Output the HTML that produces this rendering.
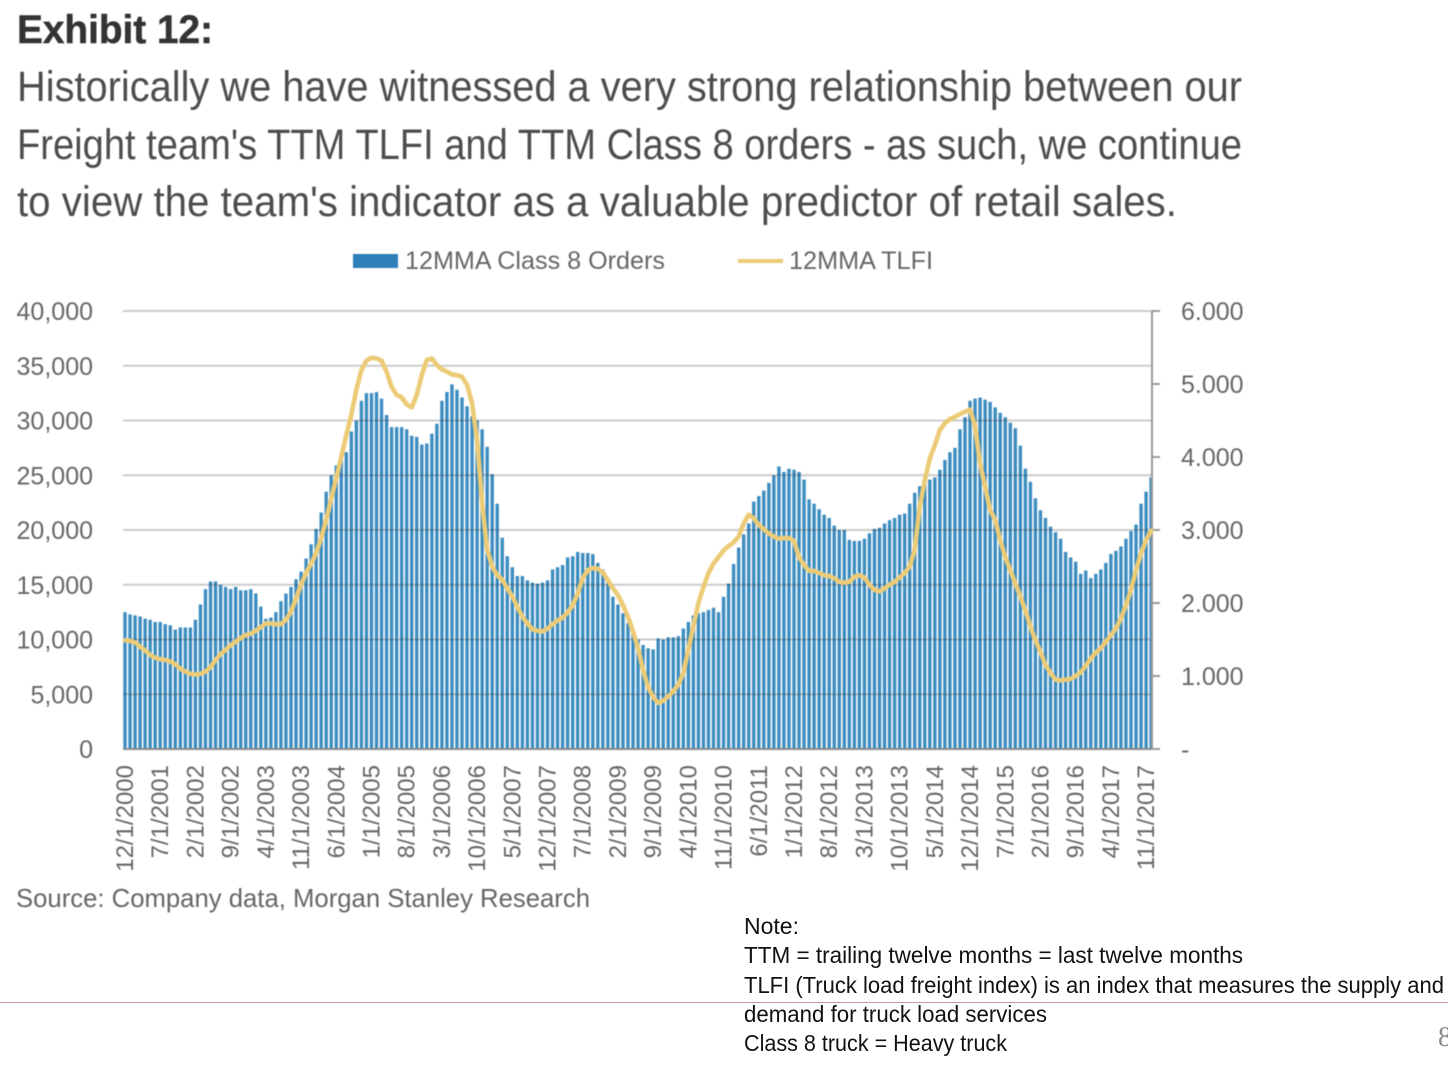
<!DOCTYPE html>
<html lang="en">
<head>
<meta charset="utf-8">
<title>Exhibit 12</title>
<style>
html,body{margin:0;padding:0;background:#fff;width:1448px;height:1065px;overflow:hidden}
svg{position:absolute;left:0;top:0;display:block}
text{font-family:"Liberation Sans",Arial,sans-serif}
#soft{filter:blur(.55px)}
</style>
</head>
<body>
<svg id="page" xmlns="http://www.w3.org/2000/svg" width="1448" height="1065" viewBox="0 0 1448 1065">
  <g id="soft">
    <text x="17" y="43" font-size="40" font-weight="bold" fill="#333" stroke="#333" stroke-width=".5" textLength="196" lengthAdjust="spacingAndGlyphs">Exhibit 12:</text>
    <text x="17" y="101" font-size="43" fill="#4d4d4d" textLength="1225" lengthAdjust="spacingAndGlyphs">Historically we have witnessed a very strong relationship between our</text>
    <text x="17" y="159" font-size="43" fill="#4d4d4d" textLength="1225" lengthAdjust="spacingAndGlyphs">Freight team's TTM TLFI and TTM Class 8 orders - as such, we continue</text>
    <text x="17" y="216" font-size="43" fill="#4d4d4d" textLength="1160" lengthAdjust="spacingAndGlyphs">to view the team's indicator as a valuable predictor of retail sales.</text>

    <g>
      <rect x="353" y="254" width="45" height="14" fill="#2f7fb8"/>
      <text x="405" y="269" font-size="25" fill="#666" textLength="260" lengthAdjust="spacingAndGlyphs">12MMA Class 8 Orders</text>
      <line x1="738" y1="261" x2="783" y2="261" stroke="#eccb77" stroke-width="4"/>
      <text x="789" y="269" font-size="25" fill="#666" textLength="144" lengthAdjust="spacingAndGlyphs">12MMA TLFI</text>
    </g>

    <g id="bars"></g>
    <g id="grid"></g>
    <g id="axes"></g>
    <polyline id="tlfi" fill="none" stroke="#eccb77" stroke-width="4.6" stroke-linejoin="round" stroke-linecap="round"/>

    <text x="16" y="907" font-size="26" fill="#666" textLength="574" lengthAdjust="spacingAndGlyphs">Source: Company data, Morgan Stanley Research</text>
  </g>

  <line x1="0" y1="1002.5" x2="1448" y2="1002.5" stroke="#c79a9a" stroke-width="1"/>
  <text x="1438" y="1046" font-size="28" fill="#8c8c8c" style="font-family:'Liberation Serif',serif">8</text>

  <g fill="#111" font-size="23">
    <text x="744" y="934" textLength="55" lengthAdjust="spacingAndGlyphs">Note:</text>
    <text x="744" y="963" textLength="499" lengthAdjust="spacingAndGlyphs">TTM = trailing twelve months = last twelve months</text>
    <text x="744" y="993" textLength="700" lengthAdjust="spacingAndGlyphs">TLFI (Truck load freight index) is an index that measures the supply and</text>
    <text x="744" y="1022" textLength="303" lengthAdjust="spacingAndGlyphs">demand for truck load services</text>
    <text x="744" y="1051" textLength="263" lengthAdjust="spacingAndGlyphs">Class 8 truck = Heavy truck</text>
  </g>
</svg>

<script>
// Chart data
const xTickLabels = ["12/1/2000","7/1/2001","2/1/2002","9/1/2002","4/1/2003","11/1/2003","6/1/2004","1/1/2005","8/1/2005","3/1/2006","10/1/2006","5/1/2007","12/1/2007","7/1/2008","2/1/2009","9/1/2009","4/1/2010","11/1/2010","6/1/2011","1/1/2012","8/1/2012","3/1/2013","10/1/2013","5/1/2014","12/1/2014","7/1/2015","2/1/2016","9/1/2016","4/1/2017","11/1/2017"];
const leftTickValues = [0,5000,10000,15000,20000,25000,30000,35000,40000];
const leftTickLabels = ["0","5,000","10,000","15,000","20,000","25,000","30,000","35,000","40,000"];
const rightTickValues = [0,1000,2000,3000,4000,5000,6000];
const rightTickLabels = ["-","1.000","2.000","3.000","4.000","5.000","6.000"];
const class8Orders = [
12.5,12.3,12.2,12.1,11.9,11.8,11.6,11.6,11.4,11.3,
10.9,11.1,11.1,11.1,11.8,13.2,14.6,15.3,15.3,15.0,
14.8,14.6,14.8,14.5,14.5,14.6,14.2,13.0,11.9,12.0,
12.5,13.5,14.2,14.8,15.5,16.2,17.4,18.7,20.1,21.6,
23.5,25.0,25.9,26.6,27.1,29.0,30.0,31.8,32.5,32.5,
32.6,32.0,30.5,29.4,29.4,29.4,29.2,28.6,28.5,27.8,
27.9,28.8,29.7,31.8,32.6,33.3,32.8,32.1,31.3,30.4,
30.0,29.2,27.6,25.1,22.4,19.3,17.6,16.6,15.8,15.8,
15.4,15.2,15.1,15.2,15.4,16.4,16.6,16.8,17.5,17.6,
18.0,17.9,17.9,17.8,17.0,16.4,15.2,13.9,13.2,12.4,
11.5,10.8,10.0,9.5,9.2,9.1,10.1,10.0,10.2,10.2,
10.3,11.0,11.6,12.2,12.4,12.5,12.7,12.9,12.5,13.9,
15.1,16.9,18.4,19.6,20.6,22.6,23.1,23.6,24.3,25.0,
25.8,25.3,25.6,25.5,25.3,24.6,22.8,22.4,21.9,21.4,
21.1,20.4,20.0,20.0,19.1,19.0,19.0,19.2,19.7,20.1,
20.2,20.6,20.9,21.1,21.4,21.5,22.4,23.4,24.0,24.5,
24.6,24.8,25.5,26.4,27.1,27.5,29.2,30.3,31.8,32.0,
32.1,31.9,31.7,31.2,30.7,30.3,29.8,29.3,27.7,25.6,
24.4,22.9,21.8,21.1,20.3,19.8,19.2,18.0,17.5,17.1,
16.0,16.3,15.6,16.0,16.4,17.0,17.8,18.1,18.5,19.2,
19.9,20.5,22.4,23.5,24.8];
const tlfiValues = [
1.49,1.48,1.46,1.40,1.35,1.29,1.25,1.23,1.22,1.20,
1.16,1.10,1.06,1.03,1.02,1.03,1.06,1.12,1.22,1.30,
1.36,1.42,1.47,1.52,1.56,1.58,1.62,1.67,1.72,1.72,
1.71,1.71,1.77,1.88,2.06,2.25,2.41,2.54,2.68,2.89,
3.14,3.43,3.71,4.00,4.30,4.58,4.92,5.19,5.32,5.36,
5.35,5.32,5.17,4.96,4.85,4.82,4.72,4.68,4.85,5.12,
5.33,5.35,5.26,5.20,5.17,5.13,5.12,5.10,4.99,4.74,
4.23,3.37,2.73,2.50,2.38,2.32,2.20,2.09,1.95,1.81,
1.72,1.64,1.62,1.61,1.65,1.71,1.76,1.80,1.87,1.97,
2.13,2.34,2.45,2.48,2.47,2.42,2.31,2.20,2.11,1.97,
1.81,1.61,1.38,1.08,0.85,0.71,0.63,0.66,0.72,0.79,
0.88,1.04,1.36,1.68,2.00,2.22,2.41,2.54,2.63,2.72,
2.78,2.83,2.91,3.09,3.21,3.16,3.07,3.01,2.95,2.91,
2.88,2.89,2.89,2.85,2.63,2.52,2.44,2.44,2.41,2.38,
2.37,2.34,2.29,2.28,2.29,2.36,2.38,2.35,2.25,2.18,
2.16,2.20,2.25,2.29,2.35,2.41,2.50,2.73,3.32,3.68,
3.98,4.16,4.37,4.46,4.52,4.55,4.59,4.62,4.65,4.42,
3.91,3.59,3.27,3.14,2.86,2.63,2.45,2.27,2.09,1.90,
1.68,1.49,1.33,1.15,1.04,0.95,0.94,0.95,0.96,1.00,
1.05,1.14,1.24,1.32,1.38,1.47,1.56,1.65,1.79,1.97,
2.18,2.45,2.68,2.86,2.99];

// Axis functions
const plotLeft = 123, plotRight = 1152, plotTop = 311, plotBottom = 749, slotWidth = 5.03;
function xAt(i){ return plotLeft + 2 + slotWidth * i; }
function yLeft(v){ return plotBottom - (v / 40000) * (plotBottom - plotTop); }
function yRight(v){ return plotBottom - (v / 6000) * (plotBottom - plotTop); }

const NS = "http://www.w3.org/2000/svg";
function make(tag, parent, attrs){
  const el = document.createElementNS(NS, tag);
  for (const k in attrs) el.setAttribute(k, attrs[k]);
  parent.appendChild(el);
  return el;
}

const barsG = document.getElementById("bars");
const gridG = document.getElementById("grid");
const axesG = document.getElementById("axes");

class8Orders.forEach(function(v, i){
  const top = yLeft(v * 1000);
  const bar = make("rect", barsG, {x: xAt(i) - 1.7, y: top, width: 3.4, height: plotBottom - top, fill: "#3d8dc0"});
  
  
});

leftTickValues.forEach(function(v, i){
  const y = yLeft(v);
  if (v > 0) {
    const g = make("line", gridG, {x1: plotLeft, y1: y, x2: plotRight, y2: y, stroke: "rgba(40,40,40,.24)", "stroke-width": 2});
    
    
  }
  const t = make("text", axesG, {x: 93, y: y + 9, "text-anchor": "end", "font-size": 25, fill: "#666"});
  t.textContent = leftTickLabels[i];
  
  
});

const baseLine = make("line", axesG, {x1: plotLeft, y1: plotBottom, x2: plotRight + 8, y2: plotBottom, stroke: "#8a8a8a", "stroke-width": 2});


const rightLine = make("line", axesG, {x1: plotRight, y1: plotTop, x2: plotRight, y2: plotBottom, stroke: "#9a9a9a", "stroke-width": 2});



rightTickValues.forEach(function(v, i){
  const y = yRight(v);
  const tick = make("line", axesG, {x1: plotRight, y1: y, x2: plotRight + 8, y2: y, stroke: "#9a9a9a", "stroke-width": 2});
  
  
  const t = make("text", axesG, {x: 1181, y: y + 9, "font-size": 25, fill: "#666"});
  t.textContent = rightTickLabels[i];
  
  
});

xTickLabels.forEach(function(label, i){
  const x = xAt(i * 7) + 8;
  const t = make("text", axesG, {x: 0, y: 0, "text-anchor": "end", "font-size": 24, fill: "#666", transform: "translate(" + x + ",765) rotate(-90)"});
  t.textContent = label;
  
  
});

document.getElementById("tlfi").setAttribute("points", tlfiValues.map(function(v, i){
  return xAt(i).toFixed(2) + "," + yRight(v * 1000).toFixed(2);
}).join(" "));
</script>
</body>
</html>
